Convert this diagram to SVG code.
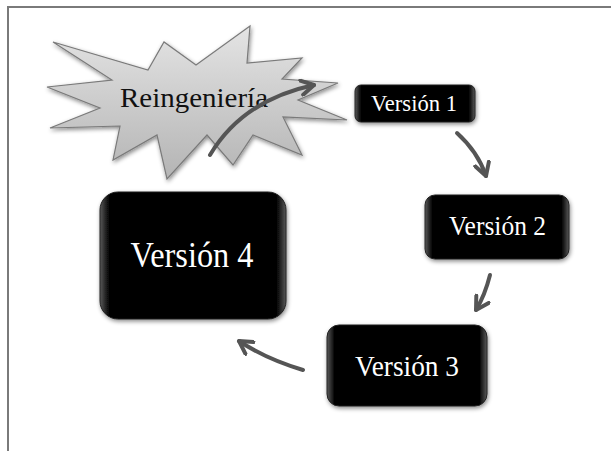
<svg xmlns="http://www.w3.org/2000/svg" width="611" height="451" viewBox="0 0 611 451">
  <defs>
    <linearGradient id="starFill" x1="0" y1="0" x2="0" y2="1">
      <stop offset="0" stop-color="#e4e4e4"/>
      <stop offset="1" stop-color="#b4b4b4"/>
    </linearGradient>
    <linearGradient id="boxSheen" x1="0" y1="0" x2="1" y2="0">
      <stop offset="0" stop-color="#5a5a5a"/>
      <stop offset="0.05" stop-color="#000"/>
      <stop offset="0.95" stop-color="#000"/>
      <stop offset="1" stop-color="#5a5a5a"/>
    </linearGradient>
    <filter id="shadow" x="-10%" y="-10%" width="125%" height="130%">
      <feDropShadow dx="1" dy="2" stdDeviation="2" flood-color="#000" flood-opacity="0.45"/>
    </filter>
    <marker id="chev" viewBox="0 0 10 10" refX="8" refY="5" markerWidth="4.5" markerHeight="4.5" orient="auto" markerUnits="strokeWidth">
      <path d="M1,1 L8,5 L1,9" fill="none" stroke="#555" stroke-width="2.2" stroke-linecap="round" stroke-linejoin="round"/>
    </marker>
    <style>
      .box { fill: url(#boxSheen); stroke: #222; stroke-width: 1; filter: url(#shadow); }
      .lbl { font-family: "Liberation Serif", "Times New Roman", serif; fill: #fff; text-anchor: middle; }
      .conn { fill: none; stroke: #555; stroke-width: 4; stroke-linecap: round; marker-end: url(#chev); }
    </style>
  </defs>

  <rect x="0" y="0" width="611" height="451" fill="#fff"/>
  <rect id="frame" x="8" y="7" width="620" height="460" fill="none" stroke="#7a7a7a" stroke-width="2"/>

  <g id="reingenieria">
    <polygon points="53,42 148,70 164,42 196,65 250,26 247,63 302,58 282,79 338,83 298,100 347,120 283,117 302,155 253,135 233,165 207,135 167,179 157,135 113,160 120,126 50,128 100,108 47,87 112,80" fill="url(#starFill)" stroke="#7a7a7a" stroke-width="1.2" stroke-linejoin="miter" filter="url(#shadow)"/>
    <text x="194" y="107" font-family="'Liberation Serif', 'Times New Roman', serif" font-size="27" fill="#111" text-anchor="middle" textLength="148" lengthAdjust="spacingAndGlyphs">Reingeniería</text>
  </g>

  <g id="v1">
    <rect class="box" x="355" y="85" width="120" height="37" rx="6"/>
    <text class="lbl" x="414" y="111" font-size="23" textLength="86" lengthAdjust="spacingAndGlyphs">Versión 1</text>
  </g>

  <g id="v2">
    <rect class="box" x="425" y="195" width="144" height="64" rx="10"/>
    <text class="lbl" x="497.5" y="235" font-size="28" textLength="97" lengthAdjust="spacingAndGlyphs">Versión 2</text>
  </g>

  <g id="v3">
    <rect class="box" x="327" y="325" width="160" height="81" rx="12"/>
    <text class="lbl" x="407" y="376" font-size="29" textLength="104" lengthAdjust="spacingAndGlyphs">Versión 3</text>
  </g>

  <g id="v4">
    <rect class="box" x="100" y="192" width="186" height="127" rx="18"/>
    <text class="lbl" x="192" y="267" font-size="35" textLength="123" lengthAdjust="spacingAndGlyphs">Versión 4</text>
  </g>

  <g id="connectors">
    <path class="conn" d="M210,155 Q243,100 314,85"/>
    <path class="conn" d="M457,133 Q478,152 486,176"/>
    <path class="conn" d="M490,275 Q485,295 476,310"/>
    <path class="conn" d="M303,370 Q266,359 239,341"/>
  </g>
</svg>
